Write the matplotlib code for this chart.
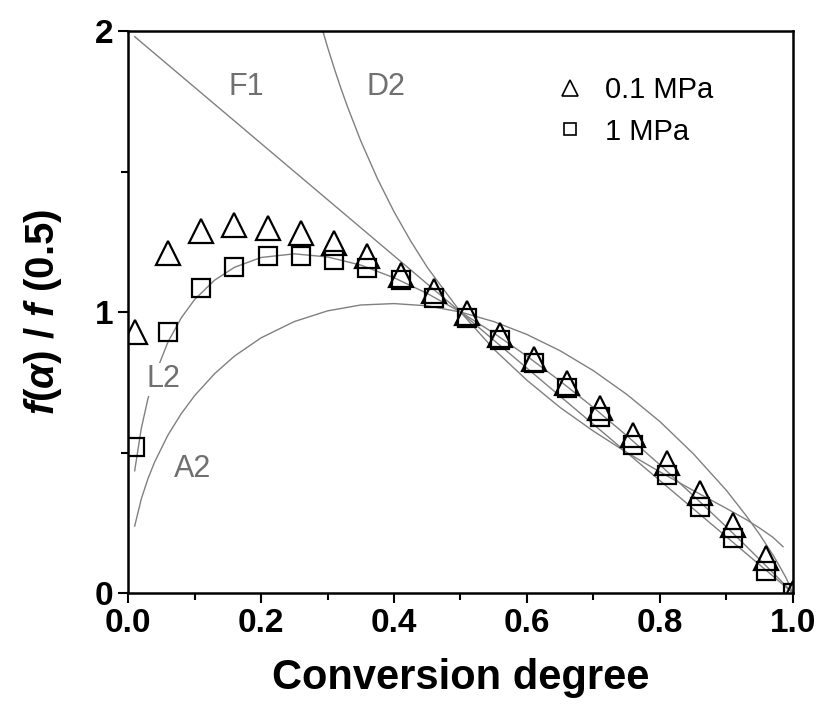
import matplotlib
matplotlib.use("Agg")
import matplotlib.pyplot as plt
from matplotlib.lines import Line2D
from matplotlib.ticker import MultipleLocator

plt.rcParams['font.family'] = ['Liberation Sans', 'DejaVu Sans']
plt.rcParams['mathtext.fontset'] = 'custom'
plt.rcParams['mathtext.rm'] = 'Liberation Sans:bold'
plt.rcParams['mathtext.it'] = 'Liberation Sans:italic:bold'
plt.rcParams['mathtext.bf'] = 'Liberation Sans:bold'

#%% Data
alpha_pts = [0.01, 0.06, 0.11, 0.16, 0.21, 0.26, 0.31, 0.36, 0.41, 0.46, 0.51,
             0.56, 0.61, 0.66, 0.71, 0.76, 0.81, 0.86, 0.91, 0.96, 1.0]
p01_vals = [0.93, 1.21, 1.29, 1.31, 1.30, 1.28, 1.245, 1.20, 1.13, 1.075, 0.996,
            0.918, 0.833, 0.747, 0.658, 0.562, 0.462, 0.355, 0.242, 0.125, 0.0]
p1_vals = [0.52, 0.93, 1.085, 1.16, 1.20, 1.20, 1.185, 1.157, 1.114, 1.05, 0.98,
           0.90, 0.818, 0.73, 0.627, 0.527, 0.42, 0.306, 0.196, 0.08, 0.0]

# model curves
f1_alpha = [0.01, 1.0]
f1_vals = [1.98, 0.0]

d2_alpha = [0.29, 0.30, 0.31, 0.32, 0.33, 0.35, 0.375, 0.40, 0.425, 0.45, 0.50,
            0.55, 0.60, 0.65, 0.70, 0.75, 0.80, 0.85, 0.90, 0.93, 0.95, 0.97, 0.985]
d2_vals = [2.024, 1.943, 1.868, 1.797, 1.731, 1.609, 1.475, 1.357, 1.253, 1.159, 1.0,
           0.868, 0.757, 0.660, 0.576, 0.500, 0.431, 0.365, 0.301, 0.261, 0.231, 0.198, 0.165]

ml_alpha = [0.01, 0.02, 0.03, 0.04, 0.06, 0.08, 0.10, 0.13, 0.16, 0.20, 0.25, 0.30,
            0.35, 0.40, 0.45, 0.50, 0.55, 0.60, 0.65, 0.70, 0.75, 0.80, 0.85, 0.90,
            0.93, 0.95, 0.97, 0.98, 0.99, 1.0]
a2_vals = [0.238, 0.335, 0.407, 0.466, 0.562, 0.638, 0.702, 0.780, 0.843, 0.908, 0.966, 1.004,
           1.025, 1.030, 1.022, 1.0, 0.966, 0.920, 0.862, 0.791, 0.707, 0.610, 0.496, 0.365,
           0.274, 0.208, 0.135, 0.095, 0.052, 0.0]
l2_vals = [0.435, 0.586, 0.692, 0.773, 0.893, 0.979, 1.044, 1.113, 1.159, 1.194, 1.207, 1.196,
           1.167, 1.122, 1.066, 1.0, 0.925, 0.843, 0.754, 0.660, 0.560, 0.456, 0.347, 0.235,
           0.166, 0.119, 0.072, 0.048, 0.024, 0.0]

curve_labels = ['F1', 'D2', 'L2', 'A2']
label_pos = [(0.178, 1.80), (0.388, 1.80), (0.054, 0.76), (0.097, 0.44)]

#%% Figure
fig = plt.figure(figsize=(8.18, 7.08), dpi=100)
ax = fig.add_axes([0.1565, 0.1624, 0.8129, 0.7938])

gray = '#808080'
for xs, ys in [(f1_alpha, f1_vals), (d2_alpha, d2_vals), (ml_alpha, a2_vals), (ml_alpha, l2_vals)]:
    ax.plot(xs, ys, color=gray, lw=1.0, zorder=2)

for lab, (x, y) in zip(curve_labels, label_pos):
    ax.text(x, y, lab, color='#707070', fontsize=22, ha='center', va='center', zorder=3,
            bbox=dict(facecolor='white', edgecolor='none', pad=1) if lab == 'L2' else None)

ax.plot(alpha_pts, p01_vals, ls='none', marker='^', ms=17, mfc='none', mec='black',
        mew=1.6, zorder=5)
ax.plot(alpha_pts, p1_vals, ls='none', marker='s', ms=13, mfc='none', mec='black',
        mew=1.6, zorder=4)

handles = [Line2D([], [], ls='none', marker='^', ms=12, mfc='none', mec='black', mew=1.2),
           Line2D([], [], ls='none', marker='s', ms=9, mfc='none', mec='black', mew=1.2)]
ax.legend(handles, ['0.1 MPa', '1 MPa'], loc='upper left', bbox_to_anchor=(0.625, 0.94),
          frameon=False, fontsize=21, handlelength=1.0, handletextpad=0.7,
          labelspacing=0.45, borderaxespad=0)

ax.set_xlim(0, 1.0)
ax.set_ylim(0, 2.0)
ax.xaxis.set_major_locator(MultipleLocator(0.2))
ax.xaxis.set_minor_locator(MultipleLocator(0.1))
ax.yaxis.set_major_locator(MultipleLocator(1))
ax.yaxis.set_minor_locator(MultipleLocator(0.5))
ax.set_xticklabels([f'{v:.1f}' for v in ax.get_xticks()])
ax.tick_params(which='both', direction='out', width=1.5, labelsize=24)
ax.tick_params(which='major', length=7)
ax.tick_params(which='minor', length=5)
for lab in ax.get_xticklabels() + ax.get_yticklabels():
    lab.set_fontweight('bold')
for sp in ax.spines.values():
    sp.set_linewidth(1.8)

ax.set_xlabel('Conversion degree', fontsize=30, fontweight='bold', labelpad=14)
ax.set_ylabel(r'$f$($\alpha$) / $f$ (0.5)', fontsize=29, fontweight='bold', labelpad=22)

fig.savefig('out.png', dpi=100)
